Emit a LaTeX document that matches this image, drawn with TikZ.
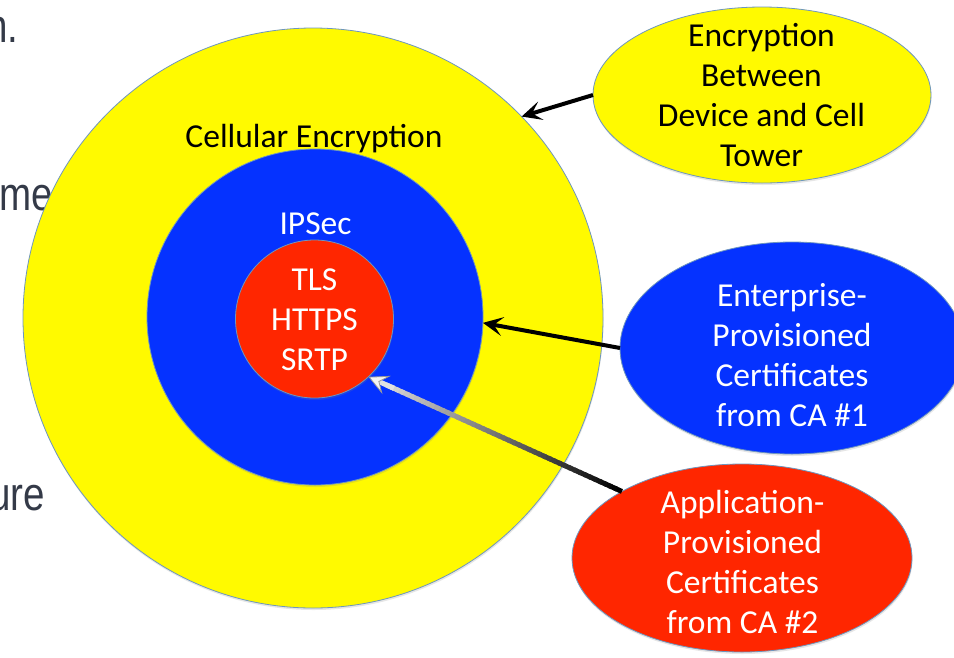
\documentclass[tikz,border=0pt]{standalone}
\usepackage{fontspec}
\setmainfont{Carlito}
\newfontfamily\slidefont[FakeStretch=0.82]{Liberation Sans}
\usetikzlibrary{shapes.geometric,arrows.meta,calc,shadows}

\definecolor{cyel}{RGB}{255,250,0}
\definecolor{cblu}{RGB}{5,50,255}
\definecolor{cred}{RGB}{255,38,0}
\definecolor{cedge}{RGB}{110,150,190}
\definecolor{cslide}{RGB}{52,58,72}
\definecolor{lgray}{RGB}{225,225,225}

\newcommand\mlines[1]{\begin{tabular}[t]{@{}c@{}}#1\end{tabular}}

\begin{document}
\begin{tikzpicture}[x=1pt,y=-1pt,
  shadowed/.style={drop shadow={shadow xshift=0.5pt,shadow yshift=-2pt,opacity=0.2}},
  ring/.style={circle, draw=cedge, line width=0.8pt, inner sep=0pt, outer sep=0pt, shadowed},
  oval/.style={ellipse, draw=cedge, line width=0.8pt, inner sep=0pt, outer sep=0pt, shadowed},
  lbl/.style={inner sep=0pt, anchor=base, font=\fontsize{33.5}{40}\selectfont},
  slide/.style={inner sep=0pt, anchor=base east, text=cslide, font=\slidefont\fontsize{47}{56}\selectfont},
  conn/.style={line width=4pt, -{Stealth[length=20pt,width=19pt,inset=9pt]}},
]
\useasboundingbox (0,0) rectangle (954,657);
\clip (0,0) rectangle (954,657);

% fragments of the slide text behind the picture
\node[slide] (t1) at (18.5,42) {n.};
\node[slide] (t2) at (53,210) {me};
\node[slide] (t3) at (45,510) {ure};

% concentric circles
\node[ring, fill=cyel, minimum size=580pt] (yc) at (313,318) {};
\node[ring, fill=cblu, minimum size=336pt] (bc) at (315,317) {};
\node[ring, fill=cred, minimum size=158pt] (rc) at (314.5,319) {};

\node[lbl] (cl) at (314,147) {Cellular Encryption};
\node[lbl, text=white] (ip) at (315.5,234) {IPSec};
\node[lbl, text=white] (rl) at (314.5,290) {\mlines{TLS\\HTTPS\\SRTP}};

% ellipses
\node[oval, fill=cyel, minimum width=338pt, minimum height=176pt] (e1) at (762,95) {};
\node[lbl] (l1) at (761.5,46) {\mlines{Encryption\\Between\\Device and Cell\\Tower}};

\node[oval, fill=cblu, minimum width=344pt, minimum height=212pt] (e2) at (792,348) {};
\node[lbl, text=white] (l2) at (792,306) {\mlines{Enterprise-\\Provisioned\\Certificates\\from CA \#1}};

\node[oval, fill=cred, minimum width=340pt, minimum height=188pt] (e3) at (742,558) {};
\node[lbl, text=white] (l3) at (742.5,513) {\mlines{Application-\\Provisioned\\Certificates\\from CA \#2}};

% connectors
\draw[conn] (e1.west) -- (yc.44.4);
\draw[conn] (e2.west) -- (bc.-2);

\coordinate (a3) at (e3.151.6);
\coordinate (b3) at (rc.-47.5);
\foreach \i in {0,...,45} {
  \pgfmathsetmacro\pc{100-2.1*\i}
  \draw[line width=5pt, draw=black!\pc!lgray]
    ($(a3)!\i/50!(b3)$) -- ($(a3)!\i/50+0.03!(b3)$);
}
\draw[line width=5pt, draw=lgray,
  -{Stealth[length=20pt,width=20pt,inset=8pt,color=gray!80,fill=white!92!gray,line width=0.8pt]}]
  ($(a3)!0.9!(b3)$) -- (b3);
\end{tikzpicture}
\end{document}
